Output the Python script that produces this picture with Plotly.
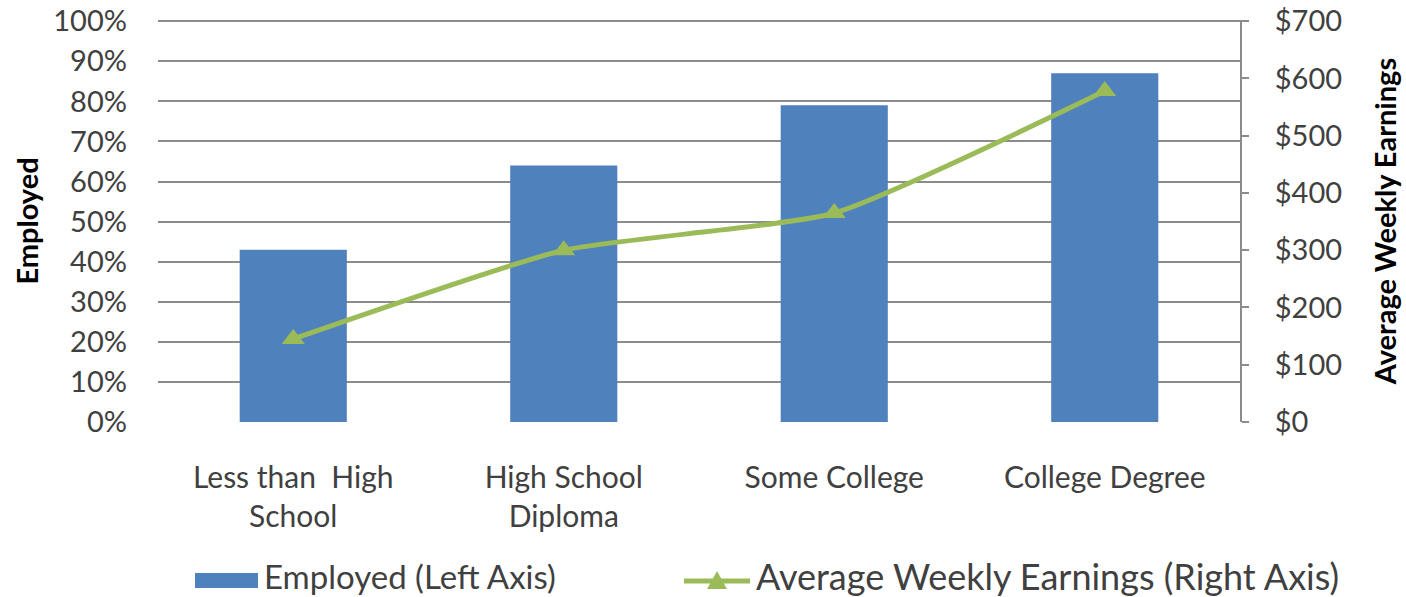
import plotly.graph_objects as go

categories = ["Less than  High<br>School", "High School<br>Diploma", "Some College", "College Degree"]
employed = [0.43, 0.64, 0.79, 0.87]
weekly_earnings = [145, 300, 365, 578]
pct_ticks = [i / 10 for i in range(11)]
dollar_ticks = list(range(0, 701, 100))
dollar_labels = ["$" + str(v) for v in dollar_ticks]

FONT = "Lato"
TEXT = "#404040"
BLUE = "#4F81BD"
GREEN = "#9BBB59"
GRID = "#8c8c8c"

W, H = 1406, 597
L, R, T, B = 158, 166, 20, 175


def px_x(px):
    # page pixel -> paper x
    return (px - L) / (W - L - R)


def px_y(py):
    # page pixel -> paper y
    return (H - B - py) / (H - T - B)


fig = go.Figure()

fig.add_trace(go.Bar(
    x=categories,
    y=employed,
    name="Employed (Left Axis)",
    marker=dict(color=BLUE, line=dict(width=0)),
    yaxis="y",
))

fig.add_trace(go.Scatter(
    x=categories,
    y=weekly_earnings,
    name="Average Weekly Earnings (Right Axis)",
    mode="lines+markers",
    line=dict(color=GREEN, width=5, shape="spline", smoothing=0.5),
    marker=dict(symbol="triangle-up", size=20, color=GREEN),
    yaxis="y2",
))

# legend drawn by hand so the bar swatch is a wide strip like the original
fig.add_shape(type="rect", xref="paper", yref="paper",
              x0=px_x(195), x1=px_x(258), y0=px_y(588), y1=px_y(573),
              fillcolor=BLUE, line=dict(width=0))
fig.add_shape(type="line", xref="paper", yref="paper",
              x0=px_x(684), x1=px_x(750), y0=px_y(581), y1=px_y(581),
              line=dict(color=GREEN, width=5))
fig.add_shape(type="path", xref="paper", yref="paper",
              path="M {} {} L {} {} L {} {} Z".format(
                  px_x(707), px_y(589), px_x(727), px_y(589), px_x(717), px_y(571)),
              fillcolor=GREEN, line=dict(width=0))
fig.add_annotation(text="Employed (Left Axis)", xref="paper", yref="paper",
                   x=px_x(262), y=px_y(576), xanchor="left", yanchor="middle",
                   showarrow=False, font=dict(size=33, color=TEXT))
fig.add_annotation(text="Average Weekly Earnings (Right Axis)", xref="paper", yref="paper",
                   x=px_x(754), y=px_y(576), xanchor="left", yanchor="middle",
                   showarrow=False, font=dict(size=36, color=TEXT))

fig.update_layout(
    width=W,
    height=H,
    margin=dict(l=L, r=R, t=T, b=B, autoexpand=False),
    plot_bgcolor="white",
    paper_bgcolor="white",
    font=dict(family=FONT, size=29, color=TEXT),
    bargap=0.604,
    showlegend=False,
    xaxis=dict(
        showgrid=False,
        showline=False,
        tickfont=dict(size=30, color=TEXT),
        ticklabelstandoff=35,
    ),
    yaxis=dict(
        range=[0, 1.003],
        tickvals=pct_ticks,
        tickformat=".0%",
        showgrid=True,
        gridcolor=GRID,
        gridwidth=2,
        zeroline=False,
        ticks="",
        ticklabelstandoff=30,
        ticklabeloverflow="allow",
        title=dict(text="<b>Employed</b>", font=dict(size=29, color="#000000"), standoff=6),
        tickfont=dict(size=29, color=TEXT),
    ),
    yaxis2=dict(
        range=[0, 702.1],
        tickmode="array",
        tickvals=dollar_ticks,
        ticktext=dollar_labels,
        overlaying="y",
        side="right",
        showgrid=False,
        zeroline=False,
        showline=True,
        linecolor=GRID,
        linewidth=2,
        ticks="outside",
        ticklen=7,
        tickcolor=GRID,
        tickwidth=2,
        ticklabelstandoff=20,
        ticklabeloverflow="allow",
        title=dict(text="<b>Average Weekly Earnings</b>", font=dict(size=29, color="#000000"), standoff=35),
        tickfont=dict(size=29, color=TEXT),
    ),
)

# drop the default 8px page margin so the figure fills the window exactly
fig.write_html(
    "out.html",
    config={"displayModeBar": False},
    post_script="document.body.style.margin = '0';",
)
